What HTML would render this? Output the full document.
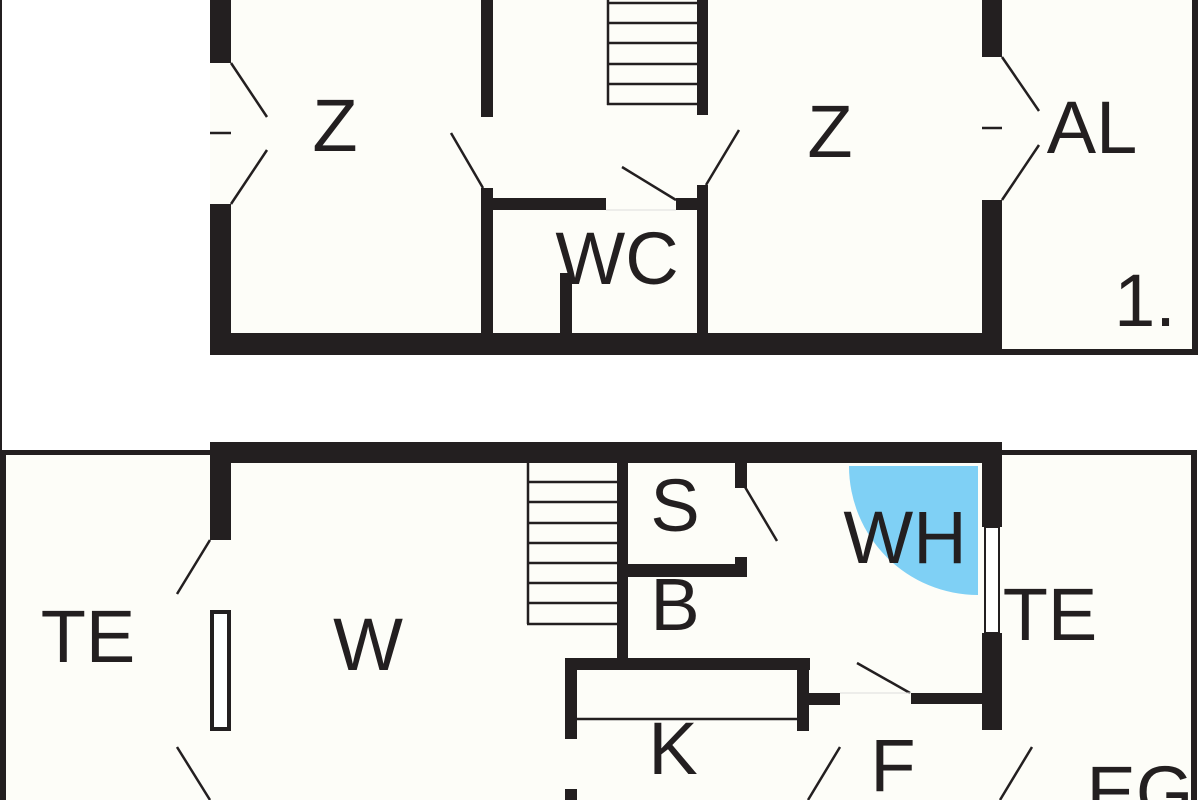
<!DOCTYPE html>
<html><head><meta charset="utf-8"><style>
html,body{margin:0;padding:0;background:#fff;}
svg{display:block;}
text{font-family:"Liberation Sans",Arial,sans-serif;font-size:74px;fill:#231f20;text-anchor:middle;}
</style></head><body>
<svg width="1200" height="800" viewBox="0 0 1200 800" xmlns="http://www.w3.org/2000/svg">
<rect x="0" y="0" width="1200" height="800" fill="#fff"/>
<!-- room fills -->
<rect x="210" y="0" width="792" height="355" fill="#fdfdf8"/>
<rect x="1002" y="0" width="195" height="352" fill="#fdfdf8"/>
<rect x="0" y="450" width="1197" height="350" fill="#fdfdf8"/>
<g fill="#231f20">
<!-- left border line -->
<rect x="0" y="0" width="2" height="450"/>
<!-- TOP FLOOR -->
<rect x="210" y="0" width="21" height="63"/>
<rect x="210" y="204" width="21" height="151"/>
<rect x="210" y="333" width="792" height="22"/>
<rect x="481" y="0" width="12" height="117"/>
<rect x="481" y="188" width="12" height="150"/>
<rect x="493" y="198" width="113" height="12"/>
<rect x="676" y="198" width="32" height="12"/>
<rect x="697" y="0" width="11" height="115"/>
<rect x="697" y="185" width="11" height="150"/>
<rect x="560" y="273" width="12" height="62"/>
<rect x="982" y="0" width="20" height="57"/>
<rect x="982" y="200" width="20" height="155"/>
<rect x="1192" y="0" width="6" height="355"/>
<rect x="1002" y="349" width="196" height="6"/>
<!-- BOTTOM FLOOR -->
<rect x="210" y="442" width="792" height="21"/>
<rect x="0" y="450" width="210" height="5"/>
<rect x="0" y="450" width="6" height="350"/>
<rect x="1002" y="450" width="195" height="5"/>
<rect x="1191" y="450" width="6" height="350"/>
<rect x="210" y="442" width="21" height="98"/>
<rect x="210" y="610" width="21" height="121"/>
<rect x="617" y="463" width="11" height="207"/>
<rect x="735" y="463" width="12" height="25"/>
<rect x="735" y="557" width="12" height="20"/>
<rect x="628" y="564" width="119" height="13"/>
<rect x="982" y="442" width="20" height="85"/>
<rect x="982" y="633" width="20" height="97"/>
<rect x="565" y="658" width="245" height="12"/>
<rect x="565" y="658" width="12" height="81"/>
<rect x="565" y="789" width="12" height="11"/>
<rect x="797" y="658" width="12" height="73"/>
<rect x="809" y="693" width="31" height="12"/>
<rect x="911" y="693" width="71" height="11"/>
</g>
<!-- windows -->
<rect x="214" y="614" width="13" height="113" fill="#fff"/>
<rect x="985" y="527" width="14" height="106" fill="#fff" stroke="#231f20" stroke-width="2"/>
<!-- stairs -->
<g stroke="#231f20" stroke-width="2.5" fill="none">
<line x1="608" y1="0" x2="608" y2="105"/>
<line x1="607" y1="3" x2="697" y2="3"/>
<line x1="607" y1="23" x2="697" y2="23"/>
<line x1="607" y1="43" x2="697" y2="43"/>
<line x1="607" y1="64" x2="697" y2="64"/>
<line x1="607" y1="84" x2="697" y2="84"/>
<line x1="607" y1="104" x2="697" y2="104"/>
<line x1="528" y1="463" x2="528" y2="624"/>
<line x1="527" y1="482" x2="617" y2="482"/>
<line x1="527" y1="502" x2="617" y2="502"/>
<line x1="527" y1="523" x2="617" y2="523"/>
<line x1="527" y1="543" x2="617" y2="543"/>
<line x1="527" y1="563" x2="617" y2="563"/>
<line x1="527" y1="583" x2="617" y2="583"/>
<line x1="527" y1="603" x2="617" y2="603"/>
<line x1="527" y1="624" x2="617" y2="624"/>
<line x1="577" y1="719" x2="798" y2="719"/>
<line x1="210" y1="133" x2="231" y2="133"/>
<line x1="982" y1="128" x2="1002" y2="128"/>
</g>
<!-- blue quarter -->
<path d="M978 466 L849 466 A129 129 0 0 0 978 595 Z" fill="#7fd0f5"/>
<!-- door swings -->
<g stroke="#231f20" stroke-width="2.5" fill="none">
<line x1="231" y1="63" x2="267" y2="117"/>
<line x1="231" y1="204" x2="267" y2="150"/>
<line x1="451" y1="133" x2="483" y2="188"/>
<line x1="622" y1="167" x2="676" y2="200"/>
<line x1="706" y1="185" x2="739" y2="130"/>
<line x1="1002" y1="57" x2="1039" y2="111"/>
<line x1="1002" y1="200" x2="1039" y2="145"/>
<line x1="210" y1="540" x2="177" y2="594"/>
<line x1="177" y1="747" x2="210" y2="800"/>
<line x1="745" y1="487" x2="777" y2="541"/>
<line x1="857" y1="663" x2="910" y2="693"/>
<line x1="840" y1="747" x2="808" y2="800"/>
<line x1="1032" y1="747" x2="1000" y2="800"/>
</g>
<g stroke="#ddd" stroke-width="1">
<line x1="840" y1="693" x2="911" y2="693"/>
<line x1="606" y1="210" x2="676" y2="210"/>
</g>
<!-- labels -->
<text x="335" y="151">Z</text>
<text x="830" y="157">Z</text>
<text x="1092" y="153">AL</text>
<text x="617" y="284">WC</text>
<text x="1145" y="326">1.</text>
<text x="88" y="662">TE</text>
<text x="368" y="670">W</text>
<text x="675" y="531">S</text>
<text x="675" y="630">B</text>
<text x="905" y="563">WH</text>
<text x="1050" y="640">TE</text>
<text x="673" y="774">K</text>
<text x="893" y="791">F</text>
<text x="1140" y="818">EG</text>
</svg>
</body></html>
